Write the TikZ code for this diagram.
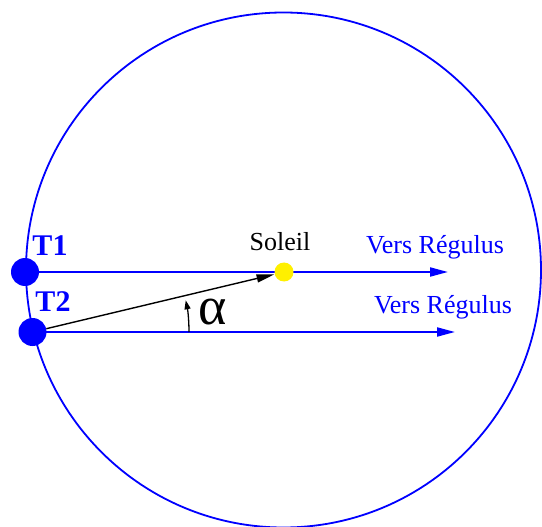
\documentclass[tikz,border=0pt]{standalone}
\usepackage{fontspec}
\setmainfont{Liberation Serif}
\usetikzlibrary{arrows.meta,backgrounds}
\definecolor{pblue}{RGB}{0,0,255}
\definecolor{pyellow}{RGB}{255,240,0}
\begin{document}
\begin{tikzpicture}[x=1pt,y=-1pt,
  planet/.style={circle,fill=pblue,inner sep=0pt,minimum size=28pt},
  sunstyle/.style={circle,fill=pyellow,inner sep=0pt,minimum size=19pt},
  sightline/.style={pblue,line width=2pt,-{Triangle[length=18pt,width=9pt]}},
  lbl/.style={pblue,font=\fontsize{30}{30}\selectfont\bfseries,inner sep=0pt},
  vers/.style={pblue,font=\fontsize{26}{26}\selectfont,inner sep=0pt},
]
\useasboundingbox (0,0) rectangle (542,527);
\node[planet] (t1) at (25,272) {};
\node[planet] (t2) at (32.5,332) {};
\node[sunstyle] (sun) at (284,272) {};
\coordinate (r1) at (448,272);
\coordinate (r2) at (455,332);
\coordinate (a0) at (189,332);
\begin{scope}[on background layer]
  \draw[pblue,line width=1.8pt] (283.5,270) circle[radius=257.5];
  \draw[sightline] (t1.center) -- (r1);
  \draw[sightline] (t2.center) -- (r2);
\end{scope}
\draw[black,line width=1.4pt,-{Triangle[length=18pt,width=8pt]}] (t2) -- (sun);
\draw[black,line width=1.3pt,-{Triangle[length=9pt,width=6pt]}] (a0) arc[start angle=0,end angle=-11.7,radius=156.5];
\node[lbl] (l1) at (50,246) {T1};
\node[lbl] (l2) at (53,302) {T2};
\node[inner sep=0pt,font=\fontsize{26}{26}\selectfont] (soleil) at (280,242) {Soleil};
\node[vers] (v1) at (435,247) {Vers Régulus};
\node[vers] (v2) at (443,307) {Vers Régulus};
\node[inner sep=0pt,font=\fontsize{54}{54}\selectfont] (alpha) at (213,312) {α};
\end{tikzpicture}
\end{document}
